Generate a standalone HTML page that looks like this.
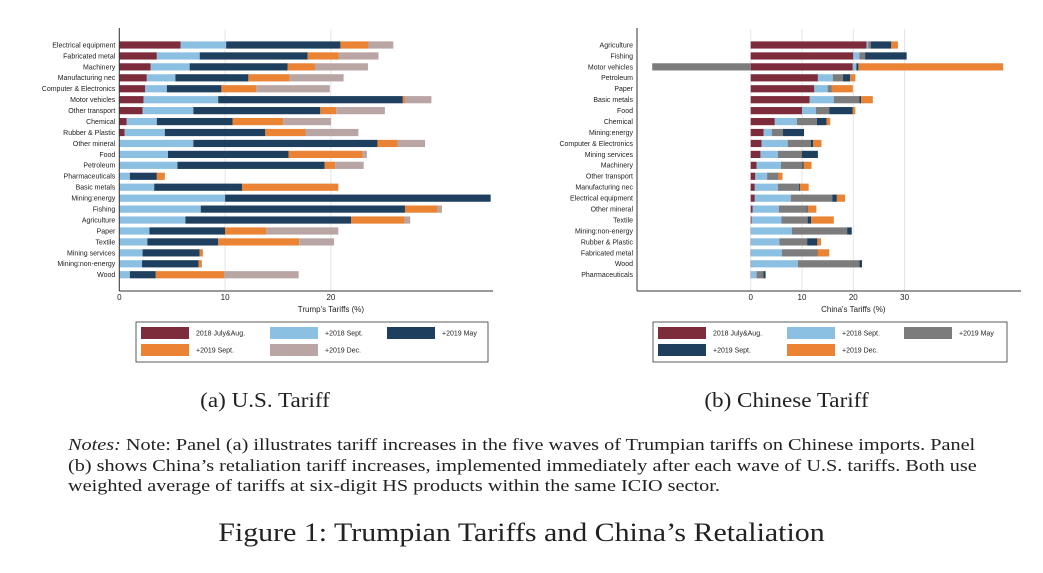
<!DOCTYPE html>
<html><head><meta charset="utf-8"><style>
body{margin:0;background:#fff;width:1043px;height:568px;overflow:hidden;font-family:"Liberation Serif",serif}
svg text{font-family:"Liberation Sans",sans-serif}
</style></head><body>
<svg id="s" width="1043" height="568" xmlns="http://www.w3.org/2000/svg"></svg>
<script>
const S=document.getElementById('s');let h='';
const MA='#7d2c3b',LB='#8cc0e3',NV='#1f3f5e',OR='#ea8333',MV='#b9a6a4',GR='#7c7c7c';
const L=[["Electrical equipment",[5.8,10.1,20.9,23.55,25.9]],["Fabricated metal",[3.55,7.6,17.8,20.75,24.5]],["Machinery",[2.95,6.65,15.9,18.5,23.5]],["Manufacturing nec",[2.6,5.3,12.2,16.1,21.2]],["Computer & Electronics",[2.45,4.5,9.65,12.95,19.9]],["Motor vehicles",[2.3,9.35,26.8,27.0,29.5]],["Other transport",[2.2,7.0,19.0,20.5,25.1]],["Chemical",[0.7,3.55,10.7,15.5,20.0]],["Rubber & Plastic",[0.5,4.3,13.8,17.6,22.6]],["Other mineral",[0,7.0,24.4,26.3,28.9]],["Food",[0,4.6,16.0,23.0,23.4]],["Petroleum",[0,5.5,19.4,20.4,23.1]],["Pharmaceuticals",[0,1.0,3.55,4.3,4.3]],["Basic metals",[0,3.3,11.6,20.7,20.7]],["Mining:energy",[0,10.0,35.1,35.1,35.1]],["Fishing",[0,7.7,27.0,30.1,30.5]],["Agriculture",[0,6.25,21.9,26.95,27.5]],["Paper",[0,2.85,10.0,13.9,20.7]],["Textile",[0,2.65,9.35,17.0,20.3]],["Mining services",[0,2.2,7.6,7.9,7.9]],["Mining:non-energy",[0,2.15,7.5,7.8,7.8]],["Wood",[0,1.0,3.45,9.9,16.95]]];
const R=[["Agriculture",[22.6,22.9,23.4,27.4,28.7]],["Fishing",[20.0,21.2,22.3,30.4,30.4]],["Motor vehicles",[19.9,20.6,20.6,21.0,49.2]],["Petroleum",[13.1,16.0,18.0,19.4,20.4]],["Paper",[12.4,15.0,15.7,15.8,19.9]],["Basic metals",[11.5,16.2,21.2,21.5,23.8]],["Food",[10.0,12.7,15.3,19.9,20.4]],["Chemical",[4.7,9.0,12.9,14.8,15.5]],["Mining:energy",[2.5,4.1,6.3,10.4,10.4]],["Computer & Electronics",[2.1,7.2,11.7,12.2,13.8]],["Mining services",[1.9,5.3,10.0,13.1,13.1]],["Machinery",[1.15,5.9,10.1,10.3,11.85]],["Other transport",[0.9,3.2,5.2,5.3,6.2]],["Manufacturing nec",[0.8,5.3,9.4,9.6,11.3]],["Electrical equipment",[0.8,7.8,15.9,16.8,18.4]],["Other mineral",[0.4,5.5,10.9,11.1,12.8]],["Textile",[0.2,6.0,11.1,11.8,16.2]],["Mining:non-energy",[0.05,8.0,18.8,19.7,19.7]],["Rubber & Plastic",[0.05,5.6,11.0,13.0,13.7]],["Fabricated metal",[0.05,6.1,12.9,13.0,15.3]],["Wood",[0.05,9.2,21.2,21.7,21.7]],["Pharmaceuticals",[0.05,1.15,2.5,2.9,2.9]]];
function panel(data,x0,sc,cols,axL,axR,ticks,title){
 for(const t of ticks){const x=x0+t*sc;h+=`<line x1="${x}" y1="29" x2="${x}" y2="291" stroke="#e4e4e4" stroke-width="1"/>`;}
 data.forEach((d,i)=>{const y=45+i*10.94-3.6;let p=0;d[1].forEach((v,k)=>{if(v>p){h+=`<rect x="${x0+p*sc}" y="${y}" width="${(v-p)*sc}" height="7.2" fill="${cols[k]}"/>`;p=v;}});
 h+=`<text x="${axL-4}" y="${45+i*10.94+2.4}" font-size="7" text-anchor="end" fill="#222">${d[0].replace('&','&amp;')}</text>`;});
 h+=`<line x1="${axL}" y1="28" x2="${axL}" y2="291" stroke="#333" stroke-width="1"/><line x1="${axL}" y1="291" x2="${axR}" y2="291" stroke="#333" stroke-width="1"/>`;
 for(const t of ticks)h+=`<text x="${x0+t*sc}" y="300" font-size="8" text-anchor="middle" fill="#222">${t}</text>`;
 h+=`<text x="${(x0+ticks[2]*sc)-0}" y="312" font-size="8" text-anchor="middle" fill="#222">${title}</text>`;
}
panel(L,119.3,10.58,[MA,LB,NV,OR,MV],119.3,493,[0,10,20],"Trump's Tariffs (%)");
panel(R,750.7,5.13,[MA,LB,GR,NV,OR],637,1021,[0,10,20,30],"China's Tariffs (%)");
h+=`<rect x="${750.7-19.2*5.13}" y="${45+2*10.94-3.6}" width="${19.2*5.13}" height="7.2" fill="${GR}"/>`;
function legend(x,y,w,items){h+=`<rect x="${x}" y="${y}" width="${w}" height="40" fill="#fff" stroke="#333" stroke-width="0.8"/>`;
 items.forEach((it,i)=>{const c=i%3,r=Math.floor(i/3);const xx=[5,134,251][c]+x;const yy=y+5+r*17;
 h+=`<rect x="${xx}" y="${yy}" width="48" height="12" fill="${it[0]}"/><text x="${xx+55}" y="${yy+8.5}" font-size="7" fill="#222">${it[1].replace('&','&amp;')}</text>`;});}
legend(136,322,352,[[MA,"2018 July&Aug."],[LB,"+2018 Sept."],[NV,"+2019 May"],[OR,"+2019 Sept."],[MV,"+2019 Dec."]]);
legend(653,322,354,[[MA,"2018 July&Aug."],[LB,"+2018 Sept."],[GR,"+2019 May"],[NV,"+2019 Sept."],[OR,"+2019 Dec."]]);
S.innerHTML=h;
</script>
<div style="position:absolute;left:0;top:388px;width:530px;text-align:center;font-size:21px;color:#222;transform:scaleX(1.1)">(a) U.S. Tariff</div>
<div style="position:absolute;left:530px;top:388px;width:513px;text-align:center;font-size:21px;color:#222;transform:scaleX(1.1)">(b) Chinese Tariff</div>
<div style="position:absolute;left:68px;top:435px;font-size:17px;line-height:20.5px;color:#222;white-space:nowrap;transform:scaleX(1.19);transform-origin:0 0"><i>Notes:</i> Note: Panel (a) illustrates tariff increases in the five waves of Trumpian tariffs on Chinese imports. Panel<br>(b) shows China’s retaliation tariff increases, implemented immediately after each wave of U.S. tariffs. Both use<br>weighted average of tariffs at six-digit HS products within the same ICIO sector.</div>
<div style="position:absolute;left:0;top:518px;width:1043px;text-align:center;font-size:26px;color:#222;transform:scaleX(1.15)">Figure 1: Trumpian Tariffs and China’s Retaliation</div>
</body></html>
